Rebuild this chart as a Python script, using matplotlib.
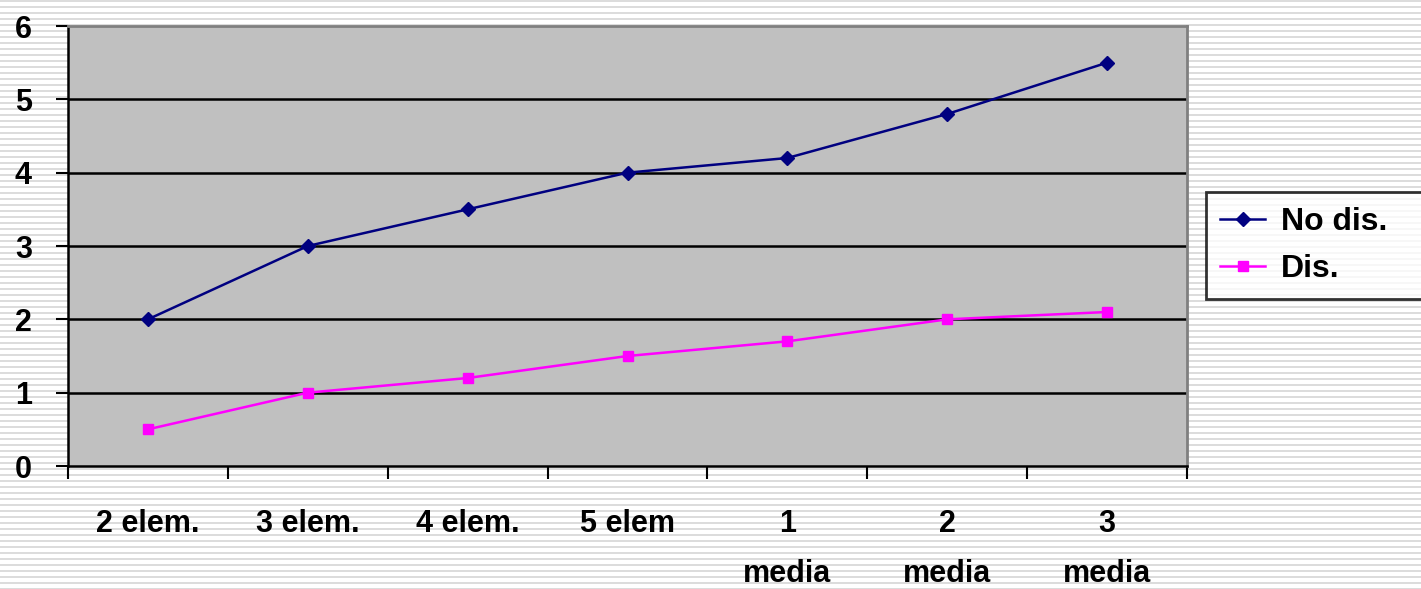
import matplotlib
matplotlib.use("Agg")
import matplotlib.pyplot as plt
import numpy as np

categories = ["2 elem.", "3 elem.", "4 elem.", "5 elem", "1\nmedia", "2\nmedia", "3\nmedia"]
no_dis = [2, 3, 3.5, 4, 4.2, 4.8, 5.5]
dis = [0.5, 1, 1.2, 1.5, 1.7, 2, 2.1]

W, H = 1421, 589
fig = plt.figure(figsize=(W / 100, H / 100), dpi=100)
plt.rcParams['font.family'] = ['Liberation Sans', 'DejaVu Sans']

# striped page background
bg = fig.add_axes([0, 0, 1, 1], zorder=-10)
rows = np.arange(H)
stripe = np.where(rows % 6 < 2, 0.86, 1.0)
img = np.tile(stripe[:, None], (1, 4))
bg.imshow(img, cmap="gray", vmin=0, vmax=1, aspect="auto", interpolation="nearest")
bg.axis("off")

left, right, top, bottom = 68, 1187, 26, 466
ax = fig.add_axes([left / W, 1 - bottom / H, (right - left) / W, (bottom - top) / H])
ax.set_facecolor("#c0c0c0")

x = np.arange(len(categories))
ax.plot(x, no_dis, color="#000080", lw=1.8, marker="D", ms=7, label="No dis.")
ax.plot(x, dis, color="#ff00ff", lw=1.8, marker="s", ms=7, label="Dis.")

ax.set_xlim(-0.5, len(categories) - 0.5)
ax.set_ylim(0, 6)
ax.set_yticks(range(7))
ax.set_yticklabels([str(i) for i in range(7)], fontsize=22, fontweight="bold")
for yv in range(1, 6):
    ax.axhline(yv, color="black", lw=1.8, zorder=1)

ax.set_xticks(np.arange(len(categories) + 1) - 0.5, minor=False)
ax.set_xticklabels([])
ax.set_xticks(x, minor=True)
ax.set_xticklabels(categories, minor=True, fontsize=22, fontweight="bold", va="top", linespacing=1.85)
ax.tick_params(axis="x", which="major", direction="out", length=9, width=1.5)
ax.tick_params(axis="x", which="minor", length=0, pad=31)
ax.tick_params(axis="y", direction="out", length=9, width=1.5, pad=17)

ax.spines["left"].set_color("black")
ax.spines["left"].set_linewidth(1.8)
ax.spines["bottom"].set_color("black")
ax.spines["bottom"].set_linewidth(1.8)
ax.spines["top"].set_color("#808080")
ax.spines["top"].set_linewidth(2)
ax.spines["right"].set_color("#808080")
ax.spines["right"].set_linewidth(2)

# legend box runs past the right edge, as in the original
leg = fig.legend(loc="upper left", bbox_to_anchor=(1206 / W, 1 - 193 / H, 240 / W, 0.001),
                 mode="expand", borderaxespad=0,
                 prop={"size": 23, "weight": "bold"}, frameon=True, fancybox=False,
                 handlelength=1.4, handletextpad=0.5, borderpad=0.45, labelspacing=0.55)
leg.get_frame().set_edgecolor("black")
leg.get_frame().set_linewidth(2)
leg.get_frame().set_facecolor("white")

fig.savefig("out.png", dpi=100)
